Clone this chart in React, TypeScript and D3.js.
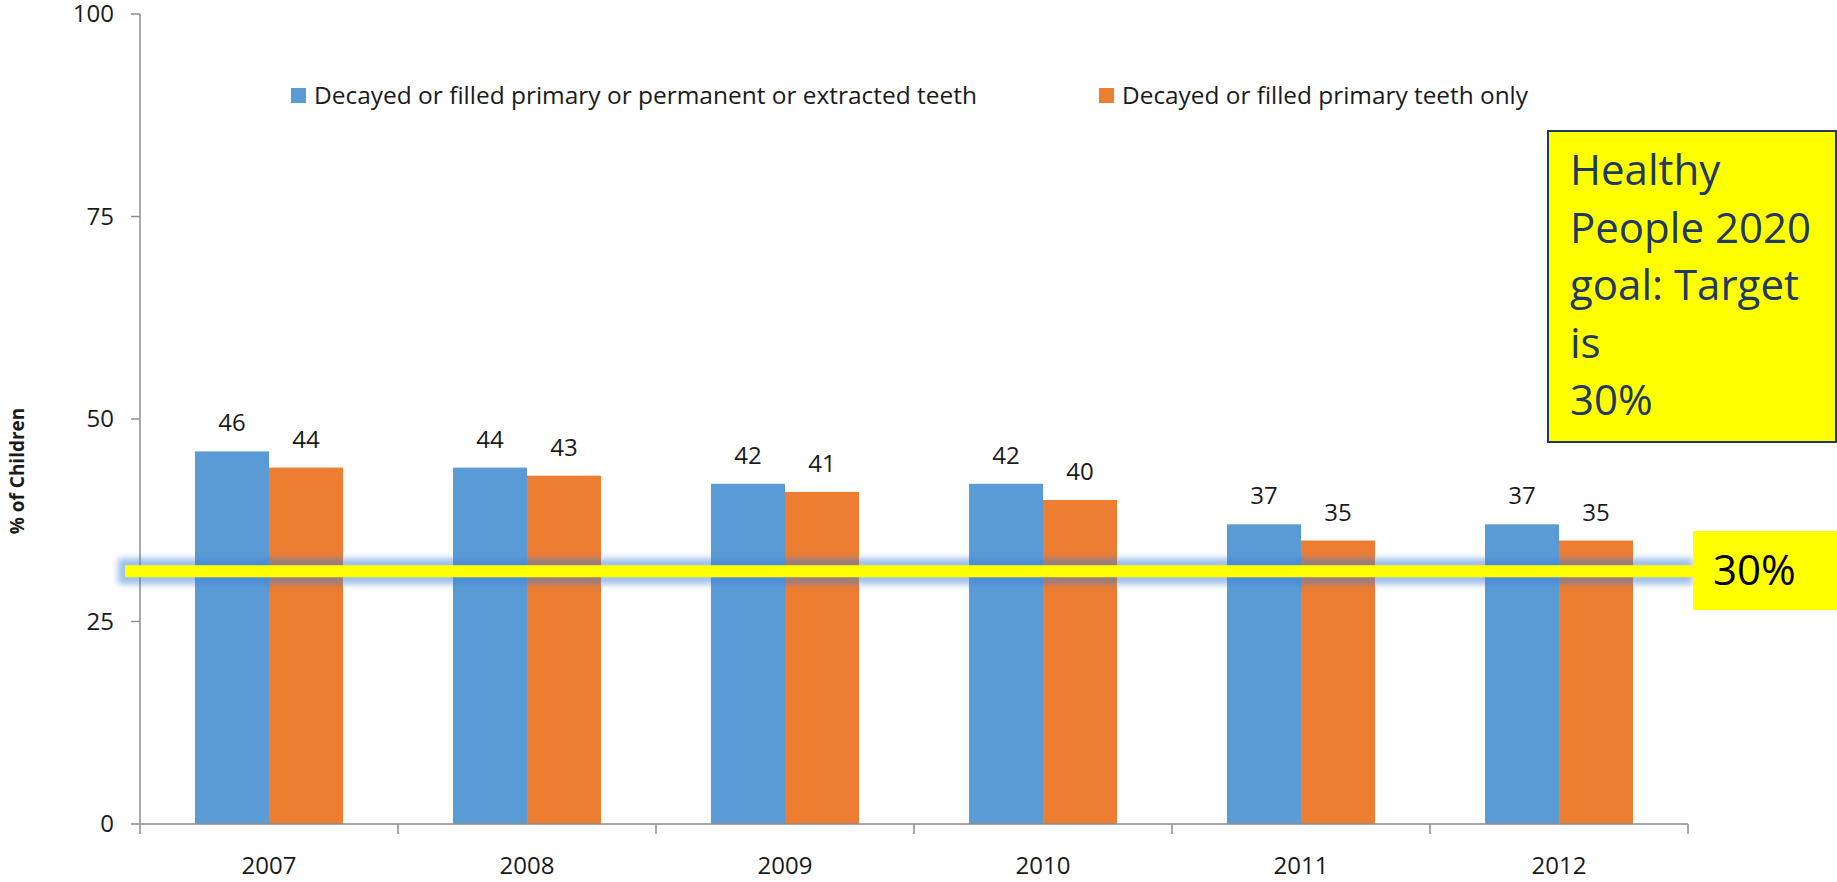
import React from "react";
import * as d3 from "d3";

const years = ["2007", "2008", "2009", "2010", "2011", "2012"];
const seriesNames = [
  "Decayed or filled primary or permanent or extracted teeth",
  "Decayed or filled primary teeth only",
];
const anyTeeth = [46, 44, 42, 42, 37, 37];
const primaryOnly = [44, 43, 41, 40, 35, 35];
const yTicks = [0, 25, 50, 75, 100];
const colors = ["#5B9BD5", "#ED7D31"];
const targetLineValue = 31.2;
const goalLines = ["Healthy", "People 2020", "goal: Target", "is", "30%"];
const targetLabel = "30%";
const yTitle = "% of Children";

const W = 1837;
const H = 882;
const M = { left: 140, right: 1688, top: 14, bottom: 824 };
const FONT = "'Open Sans', 'DejaVu Sans', sans-serif";

export default function App() {
  const x0 = d3.scaleBand<string>().domain(years).range([M.left, M.right]).paddingInner(0).paddingOuter(0);
  const x1 = d3
    .scaleBand<number>()
    .domain([0, 1])
    .range([0, x0.bandwidth()])
    .paddingInner(0)
    .paddingOuter(0.743);
  const y = d3.scaleLinear().domain([0, 100]).range([M.bottom, M.top]);
  const series = [anyTeeth, primaryOnly];
  const axisColor = "#8C8C8C";
  const lineY = y(targetLineValue);
  const tickEdges = [...years.map((yr) => x0(yr)!), M.right];

  const legendPos = [
    { sx: 291, tx: 314, len: 663 },
    { sx: 1099, tx: 1122, len: 406 },
  ];

  return (
    <svg
      width={W}
      height={H}
      style={{ position: "absolute", left: 0, top: 0, display: "block", background: "#fff" }}
    >
      <defs>
        <filter id="glow" x="-5%" y="-200%" width="110%" height="500%">
          <feGaussianBlur stdDeviation="3" />
        </filter>
      </defs>

      {/* bars */}
      {years.map((yr, i) => (
        <g key={yr} transform={`translate(${x0(yr)},0)`}>
          {series.map((s, si) => (
            <rect
              key={si}
              x={x1(si)}
              y={y(s[i])}
              width={x1.bandwidth()}
              height={y(0) - y(s[i])}
              fill={colors[si]}
            />
          ))}
          {series.map((s, si) => (
            <text
              key={"l" + si}
              x={x1(si)! + x1.bandwidth() / 2}
              y={y(s[i]) - 20}
              textAnchor="middle"
              fontFamily={FONT}
              fontSize={24}
              fill="#1a1a1a"
            >
              {s[i]}
            </text>
          ))}
        </g>
      ))}

      {/* y axis */}
      <line x1={M.left} x2={M.left} y1={M.top} y2={M.bottom} stroke={axisColor} strokeWidth={1.5} />
      {yTicks.map((t) => (
        <g key={t}>
          <line x1={M.left - 9} x2={M.left} y1={y(t)} y2={y(t)} stroke={axisColor} strokeWidth={1.5} />
          <text
            x={M.left - 26}
            y={y(t)}
            dy="0.35em"
            textAnchor="end"
            fontFamily={FONT}
            fontSize={24}
            fill="#1a1a1a"
          >
            {t}
          </text>
        </g>
      ))}

      {/* x axis */}
      <line x1={M.left} x2={M.right} y1={M.bottom} y2={M.bottom} stroke={axisColor} strokeWidth={1.5} />
      {tickEdges.map((tx, i) => (
        <line key={i} x1={tx} x2={tx} y1={M.bottom} y2={M.bottom + 10} stroke={axisColor} strokeWidth={1.5} />
      ))}
      {years.map((yr) => (
        <text
          key={yr}
          x={x0(yr)! + x0.bandwidth() / 2}
          y={874}
          textAnchor="middle"
          fontFamily={FONT}
          fontSize={24}
          fill="#1a1a1a"
        >
          {yr}
        </text>
      ))}

      {/* y title */}
      <text
        transform={`translate(24,${471}) rotate(-90)`}
        textAnchor="middle"
        fontFamily={FONT}
        fontSize={19}
        fontWeight="bold"
        fill="#1a1a1a"
      >
        {yTitle}
      </text>

      {/* legend */}
      {seriesNames.map((name, i) => {
        const p = legendPos[i];
        return (
          <g key={name}>
            <rect x={p.sx} y={88} width={15} height={15} fill={colors[i]} />
            <text
              x={p.tx}
              y={104}
              fontFamily={FONT}
              fontSize={24}
              fill="#1a1a1a"
              textLength={p.len}
              lengthAdjust="spacingAndGlyphs"
            >
              {name}
            </text>
          </g>
        );
      })}

      {/* target line with glow */}
      <rect
        x={118}
        y={lineY - 13}
        width={1693 - 118}
        height={26}
        fill="#3F7FD6"
        opacity={0.5}
        filter="url(#glow)"
      />
      <rect x={125} y={lineY - 6} width={1693 - 125} height={12} fill="#FFFF00" />

      {/* 30% label box */}
      <rect x={1693} y={531} width={W - 1693} height={79} fill="#FFFF00" />
      <text x={1713} y={585} fontFamily={FONT} fontSize={42} fill="#000">
        {targetLabel}
      </text>

      {/* goal box */}
      <rect x={1548} y={131} width={288} height={311} fill="#FFFF00" stroke="#1F3864" strokeWidth={2} />
      {goalLines.map((ln, i) => (
        <text key={i} x={1570} y={185 + i * 57.5} fontFamily={FONT} fontSize={42} fill="#1F3864">
          {ln}
        </text>
      ))}
    </svg>
  );
}
